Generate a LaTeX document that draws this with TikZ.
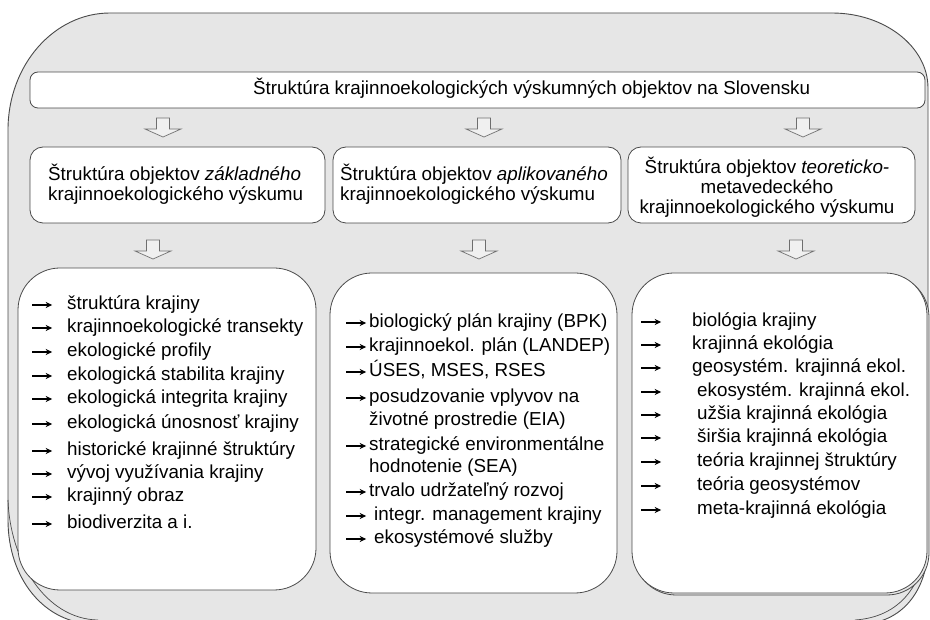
\documentclass[tikz,border=0pt]{standalone}
\usepackage{fontspec}
\setmainfont{Liberation Sans}
\usetikzlibrary{shadows,arrows.meta}
\definecolor{bgc}{HTML}{E6E6E6}
\definecolor{linec}{HTML}{4A4A4A}
\definecolor{arrc}{HTML}{6E6E6E}
\begin{document}
\begin{tikzpicture}[x=1pt,y=-1pt,
  txt/.style={font=\fontsize{18.8}{19.8}\selectfont, inner sep=0pt},
  item/.style={txt, anchor=west, text height=13.5pt, text depth=4.5pt},
  bul/.style={anchor=west, minimum width=20pt, minimum height=8pt, inner sep=0pt,
    path picture={\draw[line width=1.1pt, -{Stealth[length=6.5pt,width=6pt]}]
      (path picture bounding box.west) -- (path picture bounding box.east);}},
  titlebox/.style={draw=linec, fill=white, line width=0.8pt, rounded corners=8pt, minimum width=895pt, minimum height=36pt, inner sep=0pt},
  headbox/.style={draw=linec, fill=white, line width=0.8pt, rounded corners=13pt, minimum height=76pt, inner sep=0pt},
  listbox/.style={draw=linec, fill=white, line width=0.8pt, rounded corners=42pt, minimum height=320pt, inner sep=0pt},
  blockarrow/.pic={\draw[draw=arrc, fill=white!94!black, line width=0.7pt] (-6.5,0) -- (6.5,0) -- (6.5,11) -- (18,11) -- (0,19) -- (-18,11) -- (-6.5,11) -- cycle;}
]
\useasboundingbox (0,0) rectangle (930,620);
\fill[white] (0,0) rectangle (930,620);
% outer frame (with a faint second contour at the bottom)
\path[draw=linec, fill=bgc, line width=0.9pt]
  (8,130) .. controls (8,65) and (54,13) .. (110,13) -- (832,13)
  .. controls (885,13) and (928,47) .. (928,88) -- (928,545)
  .. controls (928,590) and (902,624) .. (860,624) -- (95,624)
  .. controls (44,624) and (8,578) .. (8,520) -- cycle;
\draw[draw=linec, line width=0.7pt]
  (8,500) .. controls (10,560) and (45,619) .. (98,620);
\draw[draw=linec, line width=0.7pt]
  (928,530) .. controls (926,585) and (900,617) .. (855,620);

% title
\node[titlebox] (title) at (477.5,90) {};
\node[item] (titletext) at (253,90) {Štruktúra krajinnoekologických výskumných objektov na Slovensku};

% header boxes
\node[headbox, minimum width=295pt] (h1) at (177.5,185) {};
\node[txt, anchor=west, align=left] (h1t) at (48,184) {Štruktúra objektov \textit{základného}\\krajinnoekologického výskumu};
\node[headbox, minimum width=288pt] (h2) at (477,185) {};
\node[txt, anchor=west, align=left] (h2t) at (340,184) {Štruktúra objektov \textit{aplikovaného}\\krajinnoekologického výskumu};
\node[headbox, minimum width=287pt] (h3) at (771.5,185) {};
\node[txt, align=center] (h3t) at (767,187) {Štruktúra objektov \textit{teoreticko-}\\metavedeckého\\krajinnoekologického výskumu};

% block arrows
\pic at (163,118) {blockarrow};
\pic at (484,118) {blockarrow};
\pic at (803,118) {blockarrow};
\pic at (153,240) {blockarrow};
\pic at (479,240) {blockarrow};
\pic at (796,240) {blockarrow};

% list boxes
\node[listbox, minimum width=298pt, minimum height=322pt] (L) at (167,429) {};
\node[listbox, minimum width=287pt] (M) at (473.5,433) {};
\node[listbox, minimum width=295pt,
  copy shadow={shadow xshift=2pt, shadow yshift=-2pt, fill=bgc, draw=linec}] (R) at (779.5,433) {};

% left list
\node[bul] (la1) at (32,305) {}; \node[item] (l1) at (67,305) {štruktúra krajiny};
\node[bul] (la2) at (32,328) {}; \node[item] (l2) at (67,328) {krajinnoekologické transekty};
\node[bul] (la3) at (32,352) {}; \node[item] (l3) at (67,352) {ekologické profily};
\node[bul] (la4) at (32,376) {}; \node[item] (l4) at (67,376) {ekologická stabilita krajiny};
\node[bul] (la5) at (32,399) {}; \node[item] (l5) at (67,399) {ekologická integrita krajiny};
\node[bul] (la6) at (32,424) {}; \node[item] (l6) at (67,424) {ekologická únosnosť krajiny};
\node[bul] (la7) at (32,451) {}; \node[item] (l7) at (67,451) {historické krajinné štruktúry};
\node[bul] (la8) at (32,474) {}; \node[item] (l8) at (67,474) {vývoj využívania krajiny};
\node[bul] (la9) at (32,497) {}; \node[item] (l9) at (67,497) {krajinný obraz};
\node[bul] (la10) at (32,524) {}; \node[item] (l10) at (67,524) {biodiverzita a i.};

% middle list
\node[bul] (ma1) at (346,323) {}; \node[item] (m1) at (369,323) {biologický plán krajiny (BPK)};
\node[bul] (ma2) at (346,347) {}; \node[item] (m2) at (369,347) {krajinnoekol. plán (LANDEP)};
\node[bul] (ma3) at (346,372) {}; \node[item] (m3) at (369,372) {ÚSES, MSES, RSES};
\node[bul] (ma4) at (346,398) {}; \node[item] (m4) at (369,398) {posudzovanie vplyvov na};
\node[item] (m4b) at (369,421) {životné prostredie (EIA)};
\node[bul] (ma5) at (346,446) {}; \node[item] (m5) at (369,446) {strategické environmentálne};
\node[item] (m5b) at (369,468) {hodnotenie (SEA)};
\node[bul] (ma6) at (346,492) {}; \node[item] (m6) at (369,492) {trvalo udržateľný rozvoj};
\node[bul] (ma7) at (346,516) {}; \node[item] (m7) at (374,516) {integr. management krajiny};
\node[bul] (ma8) at (346,539) {}; \node[item] (m8) at (374,539) {ekosystémové služby};

% right list
\node[bul] (ra1) at (641,322) {}; \node[item] (r1) at (692,322) {biológia krajiny};
\node[bul] (ra2) at (641,345) {}; \node[item] (r2) at (692,345) {krajinná ekológia};
\node[bul] (ra3) at (641,368) {}; \node[item] (r3) at (692,368) {geosystém. krajinná ekol.};
\node[bul] (ra4) at (641,392) {}; \node[item] (r4) at (697,392) {ekosystém. krajinná ekol.};
\node[bul] (ra5) at (641,415) {}; \node[item] (r5) at (697,415) {užšia krajinná ekológia};
\node[bul] (ra6) at (641,438) {}; \node[item] (r6) at (697,438) {širšia krajinná ekológia};
\node[bul] (ra7) at (641,462) {}; \node[item] (r7) at (697,462) {teória krajinnej štruktúry};
\node[bul] (ra8) at (641,486) {}; \node[item] (r8) at (697,486) {teória geosystémov};
\node[bul] (ra9) at (641,510) {}; \node[item] (r9) at (697,510) {meta-krajinná ekológia};
\end{tikzpicture}
\end{document}
